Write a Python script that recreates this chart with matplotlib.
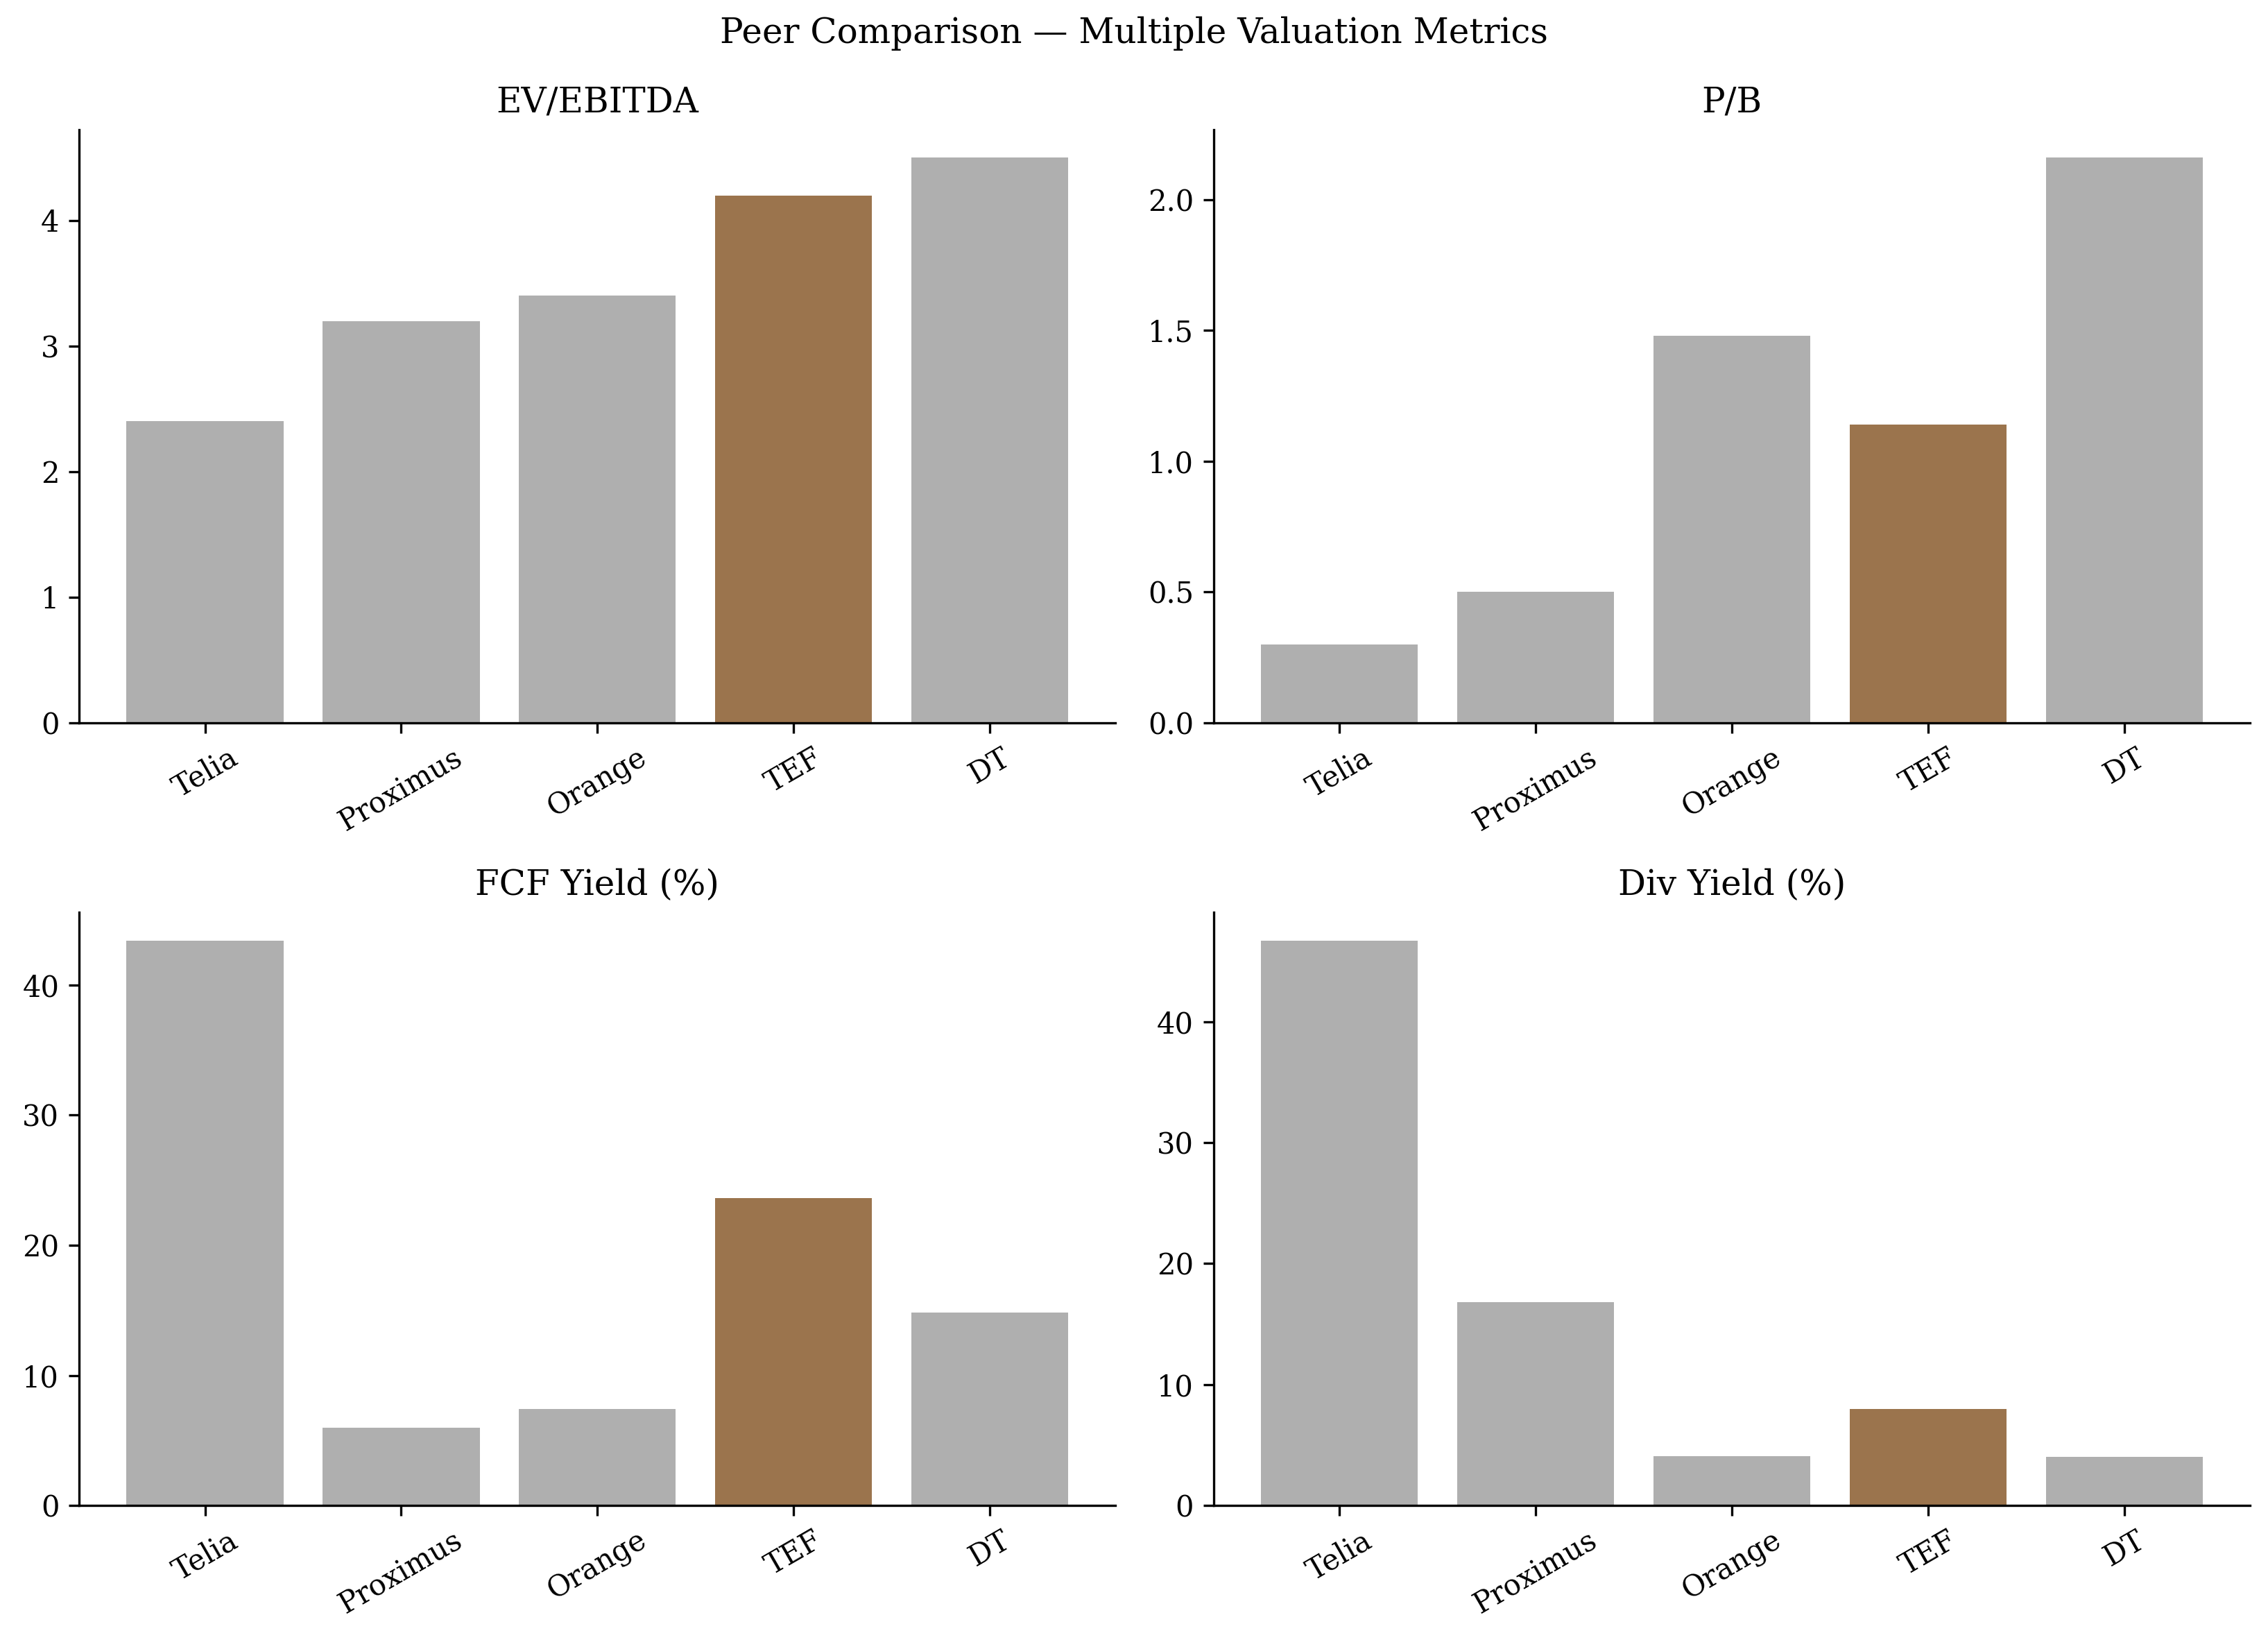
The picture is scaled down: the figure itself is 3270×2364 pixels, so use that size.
import matplotlib
matplotlib.use("Agg")
import matplotlib.pyplot as plt

plt.rcParams['font.family'] = 'DejaVu Serif'

peers = ["Telia", "Proximus", "Orange", "TEF", "DT"]
ev_ebitda = [2.4, 3.2, 3.4, 4.2, 4.5]
p_b = [0.30, 0.50, 1.48, 1.14, 2.16]
fcf_yield = [43.4, 6.0, 7.4, 23.6, 14.8]
div_yield = [46.7, 16.8, 4.1, 8.0, 4.0]

metrics = [
    ("EV/EBITDA", ev_ebitda),
    ("P/B", p_b),
    ("FCF Yield (%)", fcf_yield),
    ("Div Yield (%)", div_yield),
]

highlight = "TEF"
colors = ["#9b744d" if p == highlight else "#afafaf" for p in peers]

fig, axes = plt.subplots(2, 2, figsize=(10.9, 7.88))

for ax, (title, vals) in zip(axes.flat, metrics):
    ax.bar(peers, vals, color=colors, width=0.8)
    ax.set_title(title, fontsize=12)
    ax.spines['top'].set_visible(False)
    ax.spines['right'].set_visible(False)
    ax.tick_params(axis='x', labelrotation=30)

fig.suptitle("Peer Comparison \u2014 Multiple Valuation Metrics", fontsize=12, y=0.99)
fig.subplots_adjust(left=0.035, right=0.992, top=0.921, bottom=0.082,
                    wspace=0.095, hspace=0.32)
fig.savefig("out.png", dpi=300)
